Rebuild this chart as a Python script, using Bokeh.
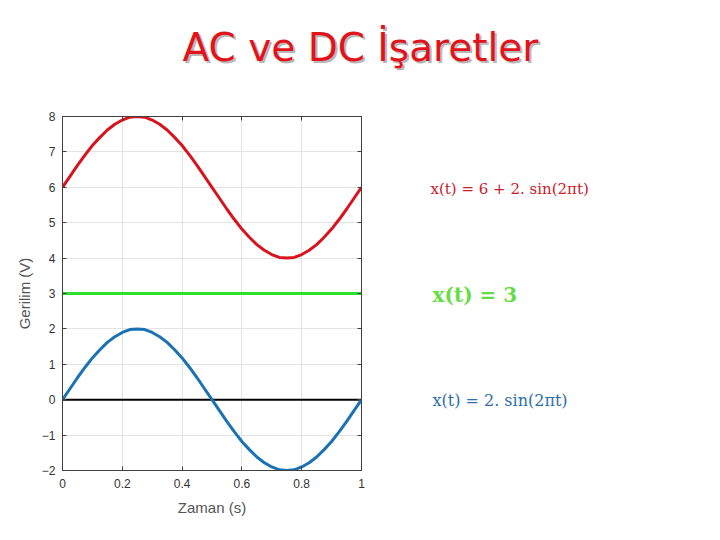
from bokeh.plotting import figure
from bokeh.models import Range1d, FixedTicker, LinearAxis
from bokeh.layouts import column, row
from bokeh.core.properties import value
from bokeh.embed import file_html
from bokeh.resources import INLINE

# ---- data ----
time_s = [0.000, 0.025, 0.050, 0.075, 0.100, 0.125, 0.150, 0.175, 0.200, 0.225,
          0.250, 0.275, 0.300, 0.325, 0.350, 0.375, 0.400, 0.425, 0.450, 0.475,
          0.500, 0.525, 0.550, 0.575, 0.600, 0.625, 0.650, 0.675, 0.700, 0.725,
          0.750, 0.775, 0.800, 0.825, 0.850, 0.875, 0.900, 0.925, 0.950, 0.975,
          1.000]
red_v = [6.00, 6.31, 6.62, 6.91, 7.18, 7.41, 7.62, 7.78, 7.90, 7.98,
         8.00, 7.98, 7.90, 7.78, 7.62, 7.41, 7.18, 6.91, 6.62, 6.31,
         6.00, 5.69, 5.38, 5.09, 4.82, 4.59, 4.38, 4.22, 4.10, 4.02,
         4.00, 4.02, 4.10, 4.22, 4.38, 4.59, 4.82, 5.09, 5.38, 5.69,
         6.00]
blue_v = [0.00, 0.31, 0.62, 0.91, 1.18, 1.41, 1.62, 1.78, 1.90, 1.98,
          2.00, 1.98, 1.90, 1.78, 1.62, 1.41, 1.18, 0.91, 0.62, 0.31,
          0.00, -0.31, -0.62, -0.91, -1.18, -1.41, -1.62, -1.78, -1.90, -1.98,
          -2.00, -1.98, -1.90, -1.78, -1.62, -1.41, -1.18, -0.91, -0.62, -0.31,
          0.00]
dc_t = [0.0, 1.0]
green_v = [3.0, 3.0]
zero_v = [0.0, 0.0]
x_ticks = [0, 0.2, 0.4, 0.6, 0.8, 1]
y_ticks = [-2, -1, 0, 1, 2, 3, 4, 5, 6, 7, 8]
title_text = "AC ve DC İşaretler"
eq_red = "x(t) = 6 + 2. sin(2πt)"
eq_green = "x(t) = 3"
eq_blue = "x(t) = 2. sin(2πt)"
eq_levels = [5.94, 2.97, -0.02]
x_label = "Zaman (s)"
y_label = "Gerilim (V)"

AX = "#404040"

# ---- title strip ----
tf = figure(width=704, height=100, output_backend="svg", toolbar_location=None,
            x_range=Range1d(0, 704), y_range=Range1d(100, 0),
            min_border=0, min_border_left=0, min_border_right=0,
            min_border_top=0, min_border_bottom=0)
tf.axis.visible = False
tf.grid.visible = False
tf.outline_line_color = None
tf.text(x=[362], y=[49], text=[title_text], text_align="center",
        text_baseline="middle", text_font=value("DejaVu Sans"),
        text_font_size="39px", text_color="#b8b8b8")
tf.text(x=[360], y=[47], text=[title_text], text_align="center",
        text_baseline="middle", text_font=value("DejaVu Sans"),
        text_font_size="39px", text_color="#e3131b")

# ---- main plot ----
p = figure(width=371, height=424, output_backend="svg", toolbar_location=None,
           x_range=Range1d(0, 1), y_range=Range1d(-2, 8),
           frame_width=299, frame_height=354,
           min_border_left=62, min_border_top=16, min_border_right=10,
           min_border_bottom=54)
p.background_fill_color = "white"
p.border_fill_color = "white"
p.outline_line_color = AX

for ax in (p.xaxis[0], p.yaxis[0]):
    ax.axis_line_color = AX
    ax.major_tick_line_color = AX
    ax.major_tick_in = 4
    ax.major_tick_out = 0
    ax.minor_tick_line_color = None
    ax.major_label_text_font = "Liberation Sans"
    ax.major_label_text_font_size = "12px"
    ax.major_label_text_color = "#333333"
    ax.axis_label_text_font = "Liberation Sans"
    ax.axis_label_text_font_size = "15px"
    ax.axis_label_text_font_style = "normal"
    ax.axis_label_text_color = "#555555"

p.xaxis[0].ticker = FixedTicker(ticks=x_ticks)
p.yaxis[0].ticker = FixedTicker(ticks=y_ticks)
p.xaxis[0].axis_label = x_label
p.yaxis[0].axis_label = y_label
p.xaxis[0].major_label_standoff = 8
p.yaxis[0].major_label_standoff = 7
p.xaxis[0].axis_label_standoff = 8
p.yaxis[0].axis_label_standoff = 6

for loc, ticks in (("right", y_ticks), ("above", x_ticks)):
    ax = LinearAxis(ticker=FixedTicker(ticks=ticks))
    ax.axis_line_color = AX
    ax.major_tick_line_color = AX
    ax.major_tick_in = 4
    ax.major_tick_out = 0
    ax.minor_tick_line_color = None
    ax.major_label_text_alpha = 0
    ax.major_label_text_font_size = "1px"
    ax.major_label_standoff = 0
    p.add_layout(ax, loc)

p.xgrid.ticker = FixedTicker(ticks=x_ticks)
p.ygrid.ticker = FixedTicker(ticks=y_ticks)
p.grid.grid_line_color = "#e3e3e3"
p.grid.grid_line_width = 1

p.line(dc_t, zero_v, line_color="black", line_width=2)
p.line(dc_t, green_v, line_color="#2ee02e", line_width=3)
p.line(time_s, red_v, line_color="#d7141e", line_width=3)
p.line(time_s, blue_v, line_color="#1a72b3", line_width=3)

# ---- equation panel ----
ef = figure(width=333, height=424, output_backend="svg", toolbar_location=None,
            x_range=Range1d(0, 333), y_range=Range1d(-2, 8),
            frame_width=333, frame_height=354,
            min_border_left=0, min_border_right=0,
            min_border_top=16, min_border_bottom=54)
ef.axis.visible = False
ef.grid.visible = False
ef.outline_line_color = None
ef.text(x=[59], y=[eq_levels[0]], text=[eq_red], text_baseline="middle",
        text_font=value("DejaVu Serif"), text_font_size="15px",
        text_color="#c8202a")
ef.text(x=[61], y=[eq_levels[1]], text=[eq_green], text_baseline="middle",
        text_font=value("DejaVu Serif"), text_font_size="20px",
        text_font_style="bold", text_color="#66dd44")
ef.text(x=[61], y=[eq_levels[2]], text=[eq_blue], text_baseline="middle",
        text_font=value("DejaVu Serif"), text_font_size="16px",
        text_color="#2f6fa8")

layout = column(tf, row(p, ef, spacing=0), spacing=0)
open("out.html", "w").write(file_html(layout, INLINE))
